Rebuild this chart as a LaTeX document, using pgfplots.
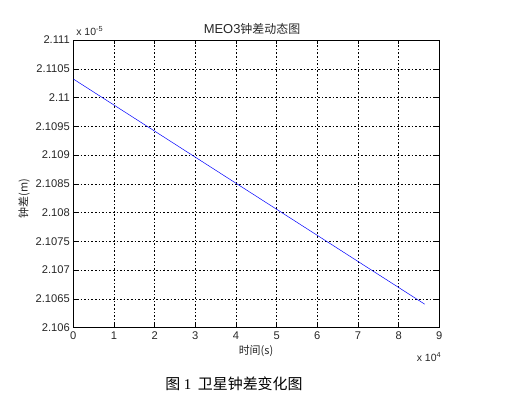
\documentclass[border=0pt]{standalone}
\usepackage{pgfplots}
\pgfplotsset{compat=1.18}
\usepackage{fontspec}
\setmainfont{Liberation Sans}
\newfontfamily\cjk{Noto Sans CJK SC}
\newfontfamily\serifen{Liberation Serif}
\begin{document}
\begin{tikzpicture}[x=1bp,y=1bp]
\path[use as bounding box] (-73.3,-70.5) rectangle (432.7,327.5);
\begin{axis}[
  at={(0,0)}, anchor=south west,
  scale only axis, width=366bp, height=287.5bp,
  xmin=0, xmax=9, ymin=2.106, ymax=2.111,
  xtick={0,1,2,3,4,5,6,7,8,9},
  ytick={2.106,2.1065,2.107,2.1075,2.108,2.1085,2.109,2.1095,2.11,2.1105,2.111},
  yticklabels={2.106,2.1065,2.107,2.1075,2.108,2.1085,2.109,2.1095,2.11,2.1105,2.111},
  xticklabels={0,1,2,3,4,5,6,7,8,9},
  tick align=inside, tick style={black, line width=0.5pt},
  major tick length=4bp,
  grid=major,
  major grid style={black, line width=0.5pt, dash pattern=on 1.6bp off 2bp},
  axis line style={black, line width=0.6pt},
  tick label style={font=\fontsize{11.2}{12}\selectfont, text=black!85},
  /pgf/number format/assume math mode=true,
  xticklabel style={yshift=-1bp},
]
\addplot[blue, line width=0.5pt] coordinates {(0,2.110322) (8.64,2.106406)};
\end{axis}
\node[text=black!85] at (178.7,298.5) {{\fontsize{13}{14}\selectfont MEO3}{\cjk\fontsize{12}{14}\selectfont 钟差动态图}};
\node[font=\fontsize{10.5}{12}\selectfont, text=black!85, anchor=west] at (-0.5,296) {x 10\textsuperscript{-5}};
\node[font=\fontsize{10.5}{12}\selectfont, text=black!85, anchor=west] at (340,-30) {x 10\textsuperscript{4}};
\node[font=\cjk\fontsize{11}{13}\selectfont, text=black!85] at (182.7,-23) {时间(s)};
\node[font=\cjk\fontsize{11}{13}\selectfont, text=black!85, rotate=90] at (-49.3,129) {钟差(m)};
\node[font=\cjk\fontsize{15}{17}\selectfont, text=black] at (160.7,-56.5) {图 {\serifen 1}\ \ 卫星钟差变化图};
\end{tikzpicture}
\end{document}
